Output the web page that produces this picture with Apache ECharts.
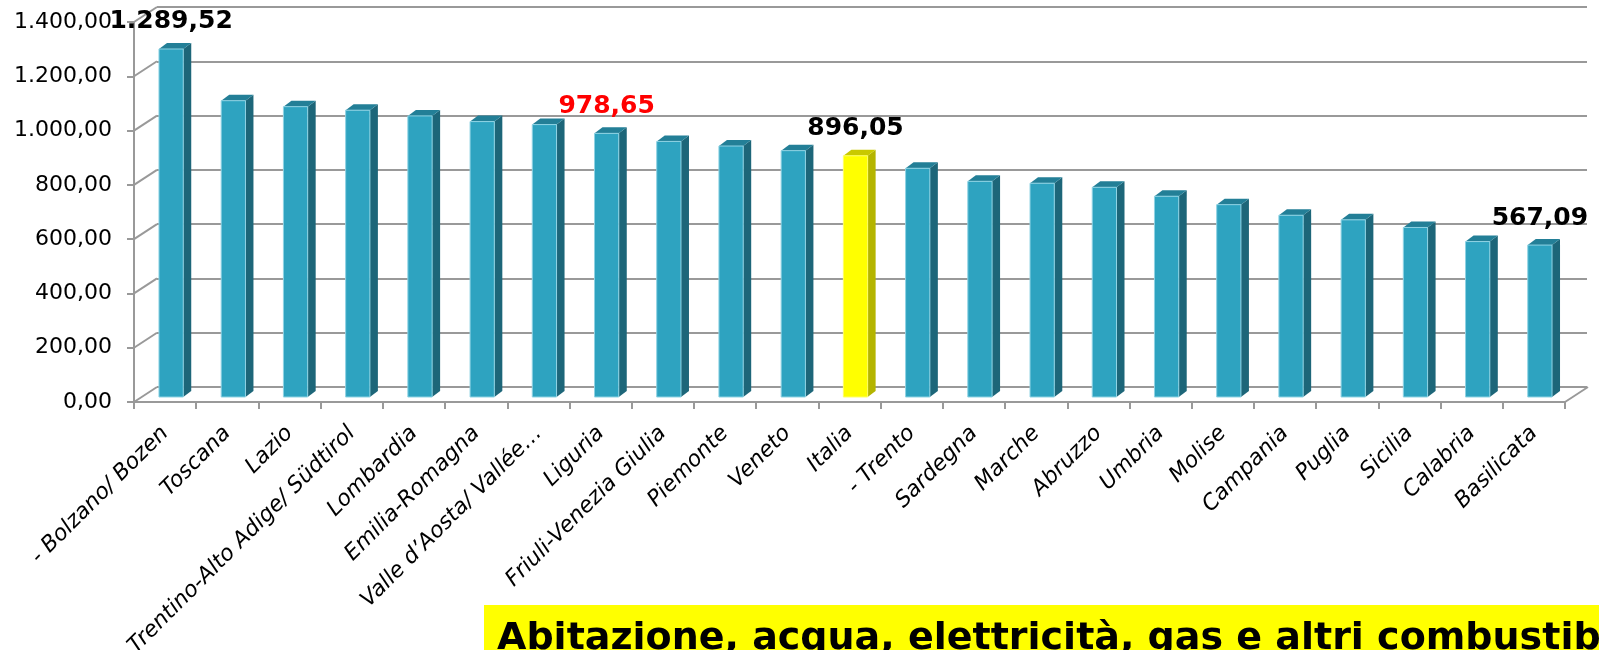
<!DOCTYPE html>
<html>
<head>
<meta charset="utf-8">
<style>
  html, body { margin: 0; padding: 0; background: #fff; }
  #chart { width: 1599px; height: 650px; }
</style>
<script src="https://cdn.jsdelivr.net/npm/echarts@6.0.0/dist/echarts.min.js"></script>
</head>
<body>
<div id="chart"></div>
<script>
// regioni, ordinate per spesa media mensile
var regioni = ['- Bolzano/ Bozen', 'Toscana', 'Lazio', 'Trentino-Alto Adige/ Südtirol', 'Lombardia',
  'Emilia-Romagna', 'Valle d’Aosta/ Vallée…', 'Liguria', 'Friuli-Venezia Giulia', 'Piemonte', 'Veneto',
  'Italia', '- Trento', 'Sardegna', 'Marche', 'Abruzzo', 'Umbria', 'Molise', 'Campania', 'Puglia',
  'Sicilia', 'Calabria', 'Basilicata'];
var spesa = [1289.52, 1099, 1077, 1064, 1043, 1022, 1011, 978.65, 949, 932, 915, 896.05, 850, 802,
  795, 780, 747, 716, 677, 660, 632, 580, 567.09];
var yTicks = [0, 200, 400, 600, 800, 1000, 1200, 1400];
// barre con il valore scritto sopra
var etichette = [0, 7, 11, 22];
var coloriEtichette = ['#000000', '#ff0000', '#000000', '#000000'];
var titolo = 'Abitazione, acqua, elettricità, gas e altri combustibili';

var DX = 23, DY = -15; // profondità del pavimento (finto 3D)

function fmt(v) {
  var p = v.toFixed(2).split('.');
  return p[0].replace(/\B(?=(\d{3})+(?!\d))/g, '.') + ',' + p[1];
}

var chart = echarts.init(document.getElementById('chart'));

// linee diagonali fra asse frontale e parete di fondo
function disegnaPavimento(params, api) {
  var cs = params.coordSys;
  var y = api.coord([0, api.value(0)])[1];
  var stile = { stroke: '#999999', lineWidth: 2 };
  var figli = [{
    type: 'line', shape: { x1: cs.x, y1: y, x2: cs.x + DX, y2: y + DY }, style: stile
  }];
  if (api.value(0) === 0) {
    figli.push({
      type: 'line',
      shape: { x1: cs.x + cs.width, y1: y, x2: cs.x + cs.width + DX, y2: y + DY },
      style: stile
    });
  }
  return { type: 'group', children: figli };
}

function disegnaBarra(params, api) {
  var i = api.value(0), v = api.value(1);
  var alto = api.coord([i, v]);
  var base = api.coord([i, 0]);
  var w = api.size([1, 0])[0] * 0.39;
  var d = 8, dh = 6;
  var x0 = alto[0] + 6 - w / 2, x1 = x0 + w;
  var y0 = alto[1] - 3, y1 = base[1] - 5;
  var italia = regioni[i] === 'Italia';
  var cFronte = italia ? '#ffff00' : '#2ea3c0';
  var cLato = italia ? '#b4b400' : '#1d6679';
  var cSopra = italia ? '#c9c900' : '#237f97';
  var figli = [
    { type: 'polygon', shape: { points: [[x1, y0], [x1 + d, y0 - dh], [x1 + d, y1 - dh], [x1, y1]] },
      style: { fill: cLato } },
    { type: 'polygon', shape: { points: [[x0, y0], [x0 + d, y0 - dh], [x1 + d, y0 - dh], [x1, y0]] },
      style: { fill: cSopra } },
    { type: 'rect', shape: { x: x0, y: y0, width: w, height: y1 - y0 },
      style: { fill: cFronte, stroke: italia ? '#ffff66' : '#8fd3e4', lineWidth: 1 } }
  ];
  var k = etichette.indexOf(i);
  if (k >= 0) {
    figli.push({
      type: 'text',
      style: {
        text: fmt(v), x: x0 + w / 2, y: y0 - 27, align: 'center', verticalAlign: 'middle',
        fontSize: 25, fontWeight: 'bold', fontFamily: '"DejaVu Sans"', fill: coloriEtichette[k]
      },
      z2: 10
    });
  }
  return { type: 'group', children: figli };
}

var option = {
  animation: false,
  title: {
    text: titolo,
    left: 484, top: 605,
    backgroundColor: '#ffff00',
    padding: [15, 60, 20, 13],
    textStyle: { fontSize: 38, fontWeight: 'bold', fontFamily: '"DejaVu Sans"', color: '#000' }
  },
  grid: [
    { left: 134, right: 34, top: 22, bottom: 248, outerBoundsMode: 'none', containLabel: false },  // piano frontale
    { left: 157, right: 12, top: 7, bottom: 263, outerBoundsMode: 'none', containLabel: false }     // parete di fondo
  ],
  xAxis: [{
    type: 'category', gridIndex: 0, data: regioni,
    axisLine: { lineStyle: { color: '#999999', width: 2 } },
    axisTick: { show: true, length: 7, lineStyle: { color: '#999999', width: 2 } },
    axisLabel: {
      interval: 0, rotate: 45, margin: 28, color: '#000',
      fontSize: 22, fontStyle: 'italic', fontFamily: '"DejaVu Sans"'
    }
  }, {
    type: 'category', gridIndex: 1, data: regioni, show: false
  }],
  yAxis: [{
    type: 'value', gridIndex: 0, min: 0, max: 1400, interval: 200,
    axisLine: { show: true, lineStyle: { color: '#999999', width: 2 } },
    axisTick: { show: true, length: 7, lineStyle: { color: '#999999', width: 2 } },
    splitLine: { show: false },
    axisLabel: { formatter: fmt, margin: 22, color: '#000', fontSize: 22, fontFamily: '"DejaVu Sans"' }
  }, {
    type: 'value', gridIndex: 1, min: 0, max: 1400, interval: 200,
    axisLine: { show: false }, axisTick: { show: false }, axisLabel: { show: false },
    splitLine: { show: true, lineStyle: { color: '#999999', width: 2 } }
  }],
  series: [{
    type: 'custom', name: 'pavimento', xAxisIndex: 0, yAxisIndex: 0,
    renderItem: disegnaPavimento, data: yTicks.map(function (t) { return [t]; }),
    clip: false, silent: true, z: 1
  }, {
    type: 'custom', name: 'spesa', xAxisIndex: 0, yAxisIndex: 0,
    renderItem: disegnaBarra,
    data: spesa.map(function (v, i) { return [i, v]; }),
    clip: false, z: 5
  }]
};

chart.setOption(option);
</script>
</body>
</html>
